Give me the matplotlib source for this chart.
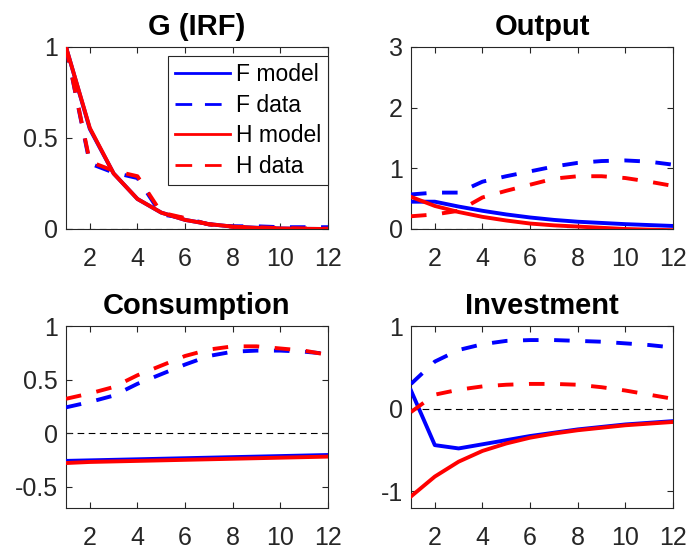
import matplotlib
matplotlib.use("Agg")
import matplotlib.pyplot as plt
from matplotlib.lines import Line2D

plt.rcParams['font.family'] = ['Liberation Sans', 'DejaVu Sans']

horizon = list(range(1, 13))
xticks = [2, 4, 6, 8, 10, 12]

titles = ["G (IRF)", "Output", "Consumption", "Investment"]
ylims = [(0, 1), (0, 3), (-0.7, 1), (-1.2, 1)]
yticks = [[0, 0.5, 1], [0, 1, 2, 3], [-0.5, 0, 0.5, 1], [-1, 0, 1]]
ytick_labels = [["0", "0.5", "1"], ["0", "1", "2", "3"],
                ["-0.5", "0", "0.5", "1"], ["-1", "0", "1"]]

# G (IRF)
g_f_model = [1.0, 0.55, 0.305, 0.165, 0.09, 0.05, 0.027, 0.013, 0.007, 0.003, 0.001, 0.0]
g_f_data = [1.0, 0.36, 0.31, 0.28, 0.08, 0.06, 0.025, 0.015, 0.015, 0.01, 0.01, 0.01]
g_h_model = [1.0, 0.555, 0.305, 0.165, 0.09, 0.05, 0.027, 0.013, 0.006, 0.003, 0.001, 0.0]
g_h_data = [1.0, 0.37, 0.32, 0.29, 0.09, 0.06, 0.025, 0.012, 0.01, 0.005, 0.003, 0.002]

# Output
y_f_model = [0.45, 0.45, 0.37, 0.30, 0.24, 0.19, 0.15, 0.12, 0.10, 0.08, 0.065, 0.05]
y_f_data = [0.57, 0.60, 0.60, 0.78, 0.87, 0.95, 1.03, 1.09, 1.12, 1.13, 1.11, 1.06]
y_h_model = [0.53, 0.38, 0.28, 0.20, 0.14, 0.09, 0.06, 0.04, 0.02, 0.0, -0.01, -0.02]
y_h_data = [0.21, 0.24, 0.30, 0.52, 0.63, 0.73, 0.83, 0.87, 0.87, 0.84, 0.78, 0.71]

# Consumption
c_f_model = [-0.26, -0.255, -0.25, -0.245, -0.24, -0.235, -0.23, -0.225, -0.22, -0.215, -0.21, -0.205]
c_f_data = [0.24, 0.29, 0.35, 0.46, 0.55, 0.64, 0.72, 0.76, 0.77, 0.77, 0.76, 0.74]
c_h_model = [-0.28, -0.27, -0.265, -0.26, -0.255, -0.25, -0.245, -0.24, -0.235, -0.23, -0.225, -0.22]
c_h_data = [0.32, 0.37, 0.43, 0.54, 0.63, 0.72, 0.78, 0.81, 0.81, 0.79, 0.77, 0.73]

# Investment
i_f_model = [0.22, -0.44, -0.48, -0.43, -0.38, -0.33, -0.29, -0.25, -0.22, -0.19, -0.17, -0.15]
i_f_data = [0.30, 0.57, 0.71, 0.78, 0.82, 0.83, 0.83, 0.82, 0.81, 0.79, 0.77, 0.74]
i_h_model = [-1.06, -0.82, -0.64, -0.51, -0.42, -0.35, -0.30, -0.26, -0.23, -0.20, -0.18, -0.16]
i_h_data = [-0.04, 0.17, 0.23, 0.27, 0.29, 0.30, 0.30, 0.29, 0.26, 0.22, 0.17, 0.12]

panels = [
    (g_f_model, g_f_data, g_h_model, g_h_data),
    (y_f_model, y_f_data, y_h_model, y_h_data),
    (c_f_model, c_f_data, c_h_model, c_h_data),
    (i_f_model, i_f_data, i_h_model, i_h_data),
]
labels = ["F model", "F data", "H model", "H data"]

fig = plt.figure(figsize=(6.89, 5.49), dpi=100)
W, H = 689, 549
positions = [
    (66, 47, 328, 229),
    (411, 47, 673, 229),
    (66, 326, 328, 508),
    (411, 326, 673, 508),
]
axcol = (0.15, 0.15, 0.15)
lw = 2.8
dash = (4.0, 4.0)
blue = (0, 0, 1)
red = (1, 0, 0)

for k, (x0, y0, x1, y1) in enumerate(positions):
    ax = fig.add_axes([x0 / W, 1 - y1 / H, (x1 - x0) / W, (y1 - y0) / H])
    fm, fd, hm, hd = panels[k]
    ax.axhline(0, color='black', lw=0.8, ls=(0, (6, 4)), zorder=1)
    ax.plot(horizon, fm, color=blue, lw=lw, zorder=3)
    ax.plot(horizon, fd, color=blue, lw=lw, ls=(0, dash), zorder=3)
    ax.plot(horizon, hm, color=red, lw=lw, zorder=4)
    ax.plot(horizon, hd, color=red, lw=lw, ls=(0, dash), zorder=4)
    ax.set_xlim(1, 12)
    ax.set_ylim(*ylims[k])
    ax.set_xticks(xticks)
    ax.set_yticks(yticks[k])
    ax.set_yticklabels(ytick_labels[k])
    ax.tick_params(direction='in', top=True, right=True, length=4, width=0.8,
                   colors=axcol, labelsize=18)
    ax.tick_params(axis='x', pad=13)
    ax.tick_params(axis='y', pad=6)
    for s in ax.spines.values():
        s.set_color(axcol)
        s.set_linewidth(0.8)
    ax.set_title(titles[k], fontsize=21, fontweight='bold', pad=8.5)
    if k == 0:
        lh = 2.0
        ld = (6.0, 4.6)
        handles = [
            Line2D([], [], color=blue, lw=lh),
            Line2D([], [], color=blue, lw=lh, ls=(0, ld)),
            Line2D([], [], color=red, lw=lh),
            Line2D([], [], color=red, lw=lh, ls=(0, ld)),
        ]
        leg = ax.legend(handles, labels, loc='upper right',
                        bbox_to_anchor=(1.0, (229 - 56) / (229 - 47)),
                        fontsize=16.5, handlelength=2.4,
                        handletextpad=0.25, borderpad=0.3, labelspacing=0.34,
                        fancybox=False, framealpha=1, edgecolor=axcol,
                        borderaxespad=0.0)
        leg.get_frame().set_linewidth(0.8)

fig.savefig("out.png", dpi=100)
